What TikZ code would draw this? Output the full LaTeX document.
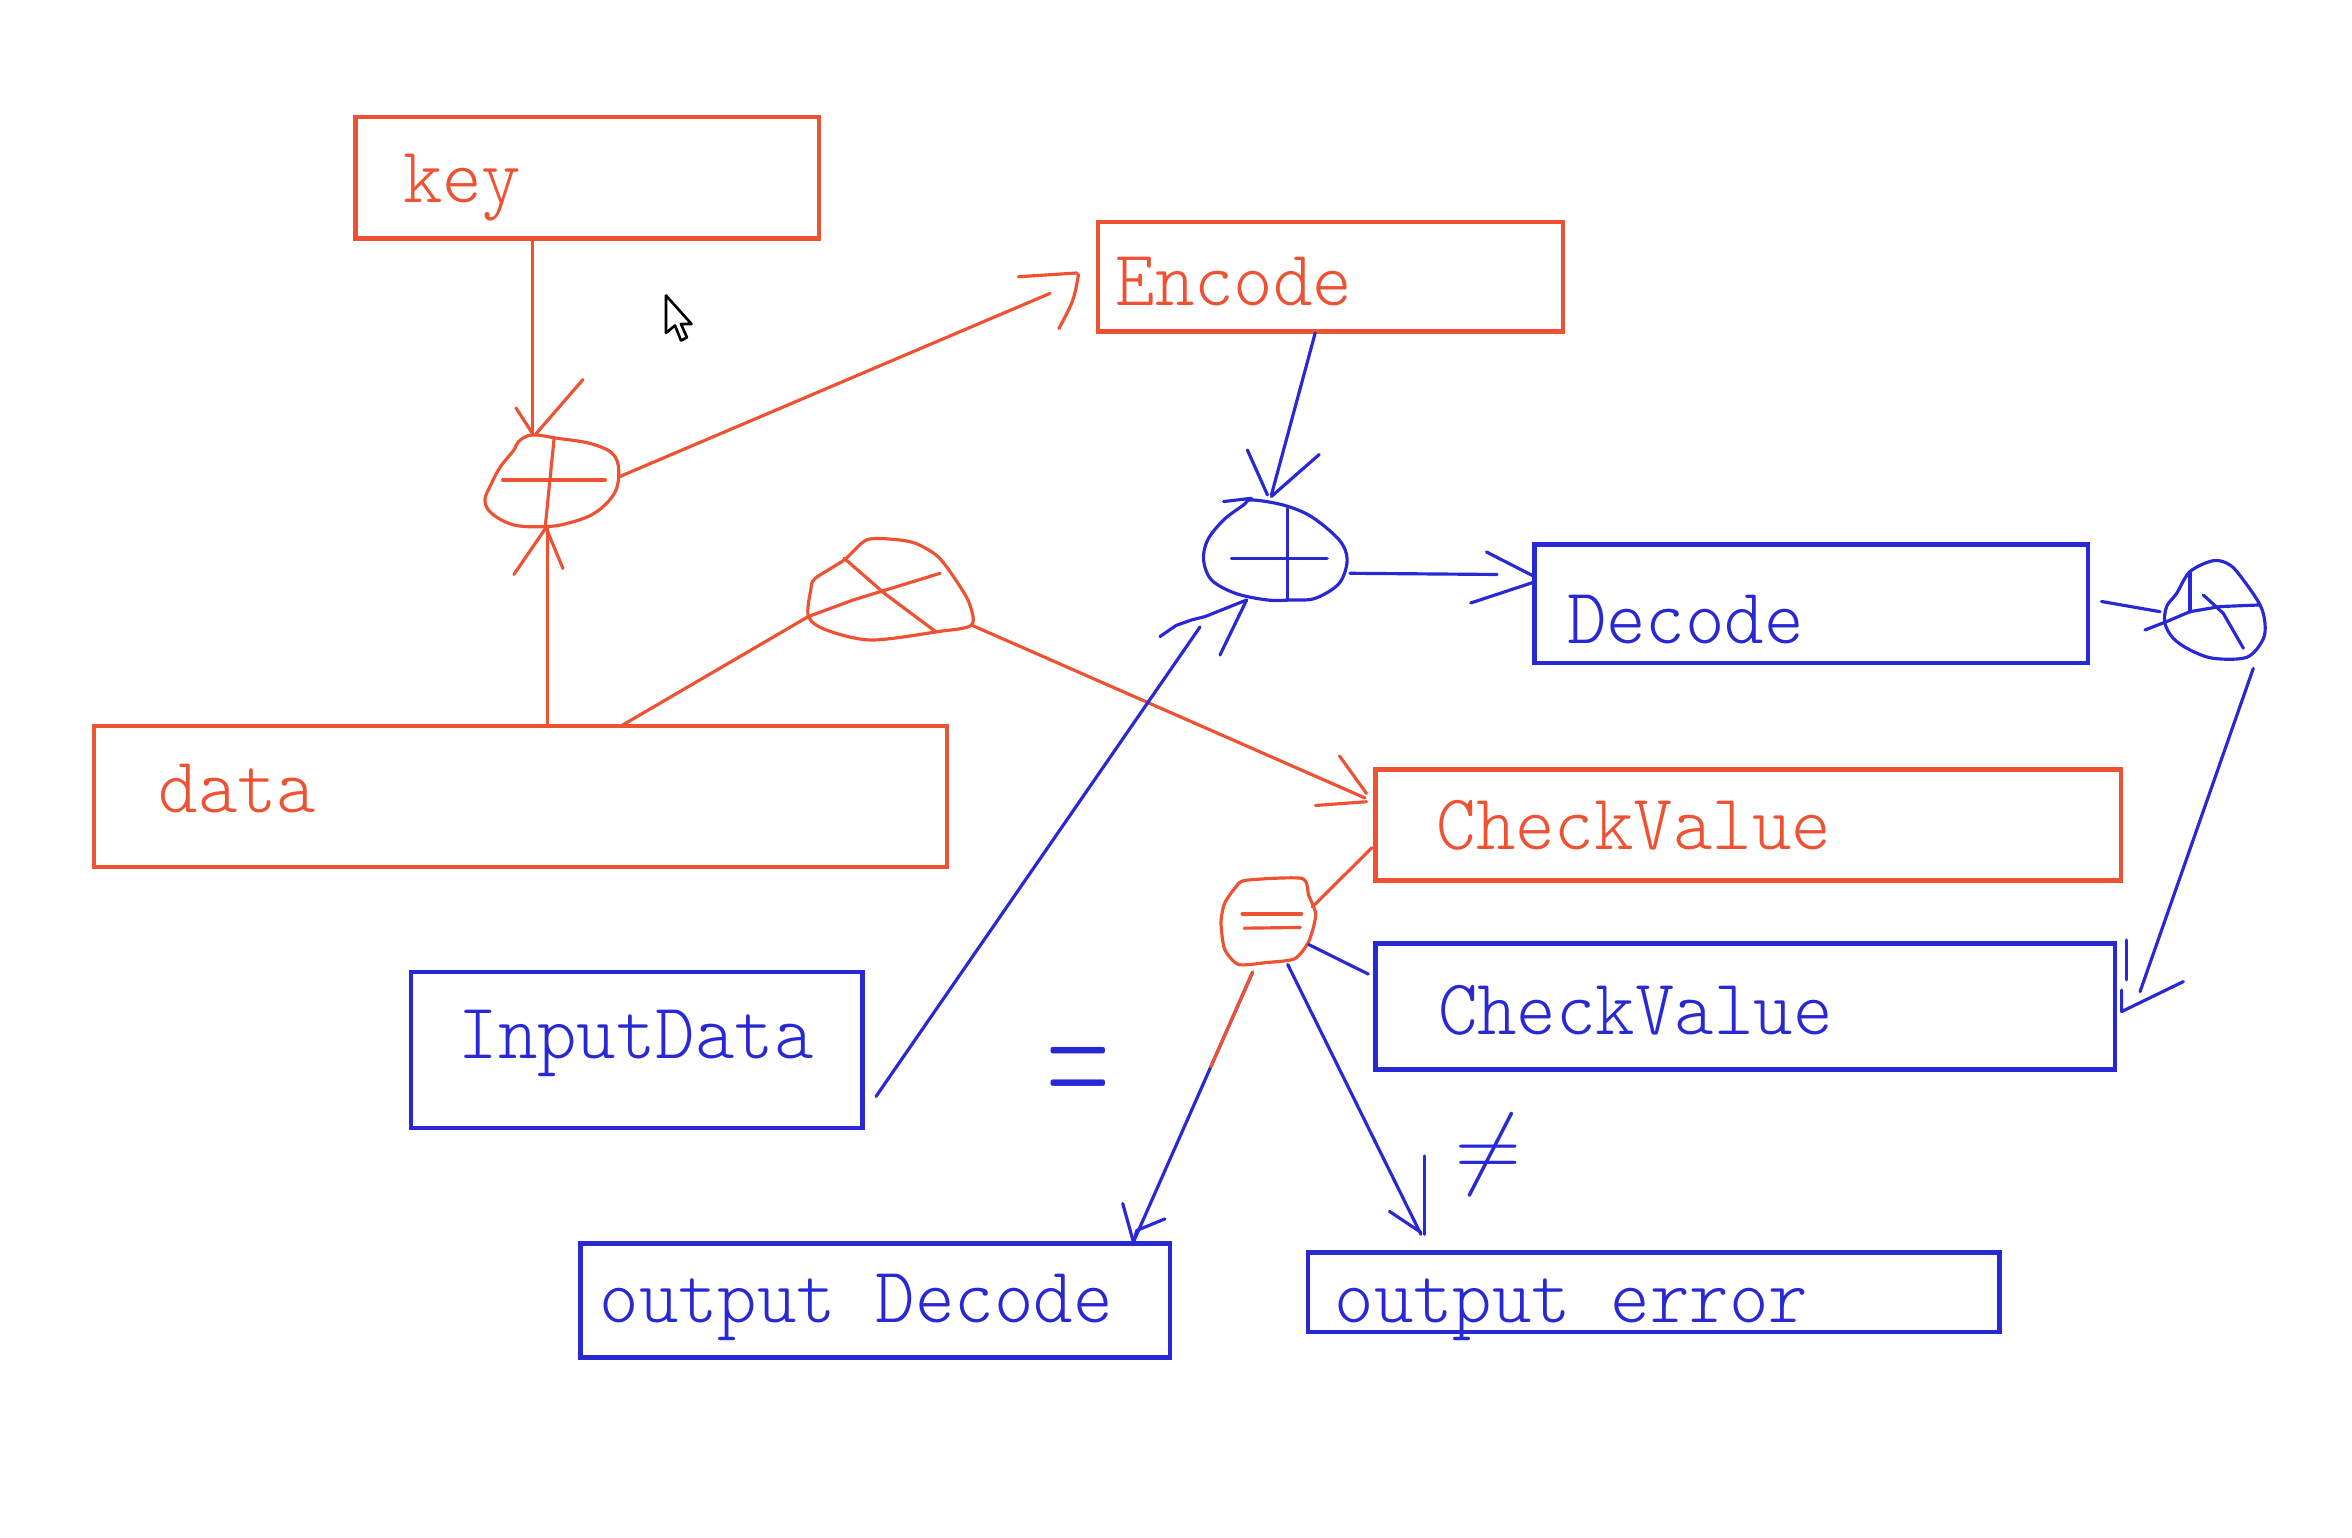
\documentclass[tikz,border=0pt]{standalone}
\usepackage{graphicx}
\usetikzlibrary{arrows.meta,calc}
\definecolor{rd}{RGB}{238,82,50}
\definecolor{bu}{RGB}{40,40,212}
\tikzset{
  rbox/.style={draw=rd, line width=0.85pt, rectangle, inner sep=0pt},
  bbox/.style={draw=bu, line width=0.85pt, rectangle, inner sep=0pt},
  lab/.style={anchor=base west, inner sep=0pt, font=\fontsize{15}{18}\selectfont\ttfamily\fontseries{l}\selectfont},
  rlab/.style={lab, text=rd},
  blab/.style={lab, text=bu},
  pen/.style={line width=0.6pt, line cap=round, line join=round},
  rpen/.style={pen, draw=rd},
  bpen/.style={pen, draw=bu},
}
\newcommand\nx[1]{\scalebox{0.95}[1]{#1}}
\begin{document}
\begin{tikzpicture}[x=0.01cm, y=-0.01cm]
\useasboundingbox[fill=white] (0,0) rectangle (1568,1025);

% ---------- boxes ----------
\node[rbox, minimum width=3.09cm, minimum height=0.81cm] (key) at (391.5,118.5) {};
\node[rbox, minimum width=3.10cm, minimum height=0.73cm] (enc) at (887,184.5) {};
\node[bbox, minimum width=3.69cm, minimum height=0.79cm] (dec) at (1207.5,402.5) {};
\node[rbox, minimum width=5.68cm, minimum height=0.94cm] (data) at (347,531) {};
\node[rbox, minimum width=4.97cm, minimum height=0.74cm] (cvr) at (1165.5,550) {};
\node[bbox, minimum width=4.93cm, minimum height=0.84cm] (cvb) at (1163.5,671) {};
\node[bbox, minimum width=3.01cm, minimum height=1.04cm] (inp) at (424.5,700) {};
\node[bbox, minimum width=3.93cm, minimum height=0.76cm] (odec) at (583.5,867) {};
\node[bbox, minimum width=4.61cm, minimum height=0.53cm] (oerr) at (1102.5,861.5) {};

% ---------- labels ----------
\node[rlab] (keyt) at (268,135) {\nx{key}};
\node[rlab] (enct) at (743,204) {\nx{Encode}};
\node[blab] (dect) at (1044,429) {\nx{Decode}};
\node[rlab] (datat) at (105,542) {\nx{data}};
\node[rlab] (cvrt) at (957,566.5) {\nx{CheckValue}};
\node[blab] (cvbt) at (958,690) {\nx{CheckValue}};
\node[blab] (inpt) at (305,705.6) {\nx{InputData}};
\node[blab] (odect) at (399,882) {\nx{output Decode}};
\node[blab] (oerrt) at (889,881.5) {\nx{output error}};

\node[text=bu, inner sep=0pt, font=\fontsize{15}{15}\selectfont] (eqs) at (719,719) {\scalebox{1.1}[2.3]{$=$}};
\node[text=bu, inner sep=0pt, font=\fontsize{17}{18}\selectfont] (neq) at (992,770) {$\neq$};

% ---------- operator blobs ----------
% XOR 1 (red)
\draw[rpen] plot[smooth cycle, tension=0.6] coordinates {(354.5,290) (372.4,292.3) (393.2,295.6) (408.1,302.2) (412.5,313.4) (409.6,328.9) (396.2,342.2) (378.3,348.9) (363.5,351.1) (342.6,350) (327.7,342.2) (323.3,333.4) (327.7,322.2) (333.7,311.1) (342.6,300) (345.6,294.5)};
\draw[rpen] (335.1,320) -- (403.6,320);
\draw[rpen] (369.4,292.3) -- (363.5,351.1);
\coordinate (x1top) at (355,289);
\coordinate (x1bot) at (365,352);
\coordinate (x1rt) at (412.5,318);

% XOR 2 (red leaf)
\draw[rpen] plot[smooth cycle, tension=0.5] coordinates {(539,411.1) (540.5,393.4) (543.5,385.6) (562.8,373.3) (577.7,360) (595.6,359.6) (610.5,362.3) (625.3,371.1) (637.2,386.7) (646.2,402.2) (647.6,416.7) (625.3,421.1) (580.7,426.7) (550.9,420)};
\draw[rpen] (539,411) -- (568.8,400) -- (626.8,382.2);
\draw[rpen] (562.8,372.2) -- (589.6,395.6) -- (623.8,421.1);
\coordinate (x2lt) at (539,411);
\coordinate (x2rt) at (647.6,416.7);

% XOR 3 (blue)
\draw[bpen] plot[smooth cycle, tension=0.55] coordinates {(834.3,333.3) (855.5,336.7) (874.2,344.4) (892.8,360) (898.1,373.3) (892.8,388.9) (876.8,398.9) (860.9,400) (844.9,400) (823.7,395.6) (807.7,386.7) (802.4,373.3) (805.1,360) (815.7,346.7) (829,336.7)};
\draw[bpen] (821,372.2) -- (884.8,372.2);
\draw[bpen] (858.2,338.9) -- (858.2,400);
\draw[bpen] (815.7,334.4) -- (834.3,332.2);
\coordinate (x3top) at (847.6,330);
\coordinate (x3bl) at (831.1,400);
\coordinate (x3rt) at (900,382.2);

% XOR 4 (blue)
\draw[bpen] plot[smooth cycle, tension=0.55] coordinates {(1460,381.1) (1475.6,373.8) (1486.7,376.7) (1495.6,386.7) (1506.7,403.3) (1510,415.6) (1508.5,426.7) (1497.8,438.2) (1475.6,438.9) (1460,433.3) (1448.9,425.6) (1443.3,415.6) (1444.4,404.4) (1451.1,395.6)};
\draw[bpen] (1430,420) -- (1444.4,414.4) -- (1460,407.8) -- (1480,404.4) -- (1506.7,403.3);
\draw[bpen] (1468.9,396.7) -- (1482.2,408.9) -- (1495.6,432.2);
\draw[bpen] (1460,381) -- (1460,408);
\coordinate (x4lt) at (1440,407.8);
\coordinate (x4bot) at (1502.2,445.6);

% equality blob (red)
\draw[rpen] plot[smooth cycle, tension=0.4] coordinates {(830.4,586.9) (867.8,585.6) (872.5,597.1) (877.2,609.9) (872.5,627.7) (863.1,639.2) (844.4,641.7) (825.7,643) (816.4,632.8) (814,615) (816.4,602.2) (823.4,592)};
\draw[rpen] (828.1,609.3) -- (867.8,609.3);
\draw[rpen] (829.5,618.8) -- (866.9,618.3);
\coordinate (eqrt) at (874.8,604.7);
\coordinate (eqrb) at (872.5,629.7);
\coordinate (eqbl) at (835.1,648.1);
\coordinate (eqbr) at (858.5,643);

% cursor
\draw[black, fill=white, line width=0.5pt, line join=round] (444,197) -- ++(0,25) -- ++(6,-5) -- ++(4,10) -- ++(4,-2) -- ++(-4,-9) -- ++(7,0) -- cycle;

% ---------- red connectors ----------
\draw[rpen] (key.south -| x1top) -- (x1top);
\draw[rpen] (344,272) -- (x1top);
\draw[rpen] (388.7,253) -- (357.5,289);

\draw[rpen] (data.north -| x1bot) -- (x1bot);
\draw[rpen] (342.6,383) -- (363.5,352.5);
\draw[rpen] (375.3,379) -- (364.5,353);

\coordinate (encin) at (700,195.6);
\draw[rpen] (x1rt) -- (encin);
\draw[rpen] (679,184.5) -- (718,182);
\draw[rpen] (719,183) .. controls (716,200) .. (706,219);

\coordinate (dtap) at (414,484);
\draw[rpen] (dtap) -- (x2lt);

\coordinate (cvrin) at (910,532);
\draw[rpen] (x2rt) -- (cvrin);
\draw[rpen] (893,504) -- (911,529);
\draw[rpen] (877,537) -- (911,534.5);

\coordinate (cvrout) at (914.6,565.2);
\draw[rpen] (cvrout) -- (eqrt);

% ---------- blue connectors ----------
\coordinate (encout) at (876.8,222);
\draw[bpen] (encout) -- (x3top);
\draw[bpen] (831.6,300) -- (845,330);
\draw[bpen] (879.5,303) -- (847.6,331);

\coordinate (inpout) at (584,731);
\coordinate (inpend) at (800,418);
\draw[bpen] (inpout) -- (inpend);
\draw[bpen] (773.3,424.4) -- (784,417) -- (794.4,413.3) -- (803.3,411.1) -- (x3bl);
\draw[bpen] (813.3,436.7) -- (x3bl);

\coordinate (decin) at (998,383);
\draw[bpen] (x3rt) -- (decin);
\draw[bpen] (991,368) -- (1023,384.4);
\draw[bpen] (980.5,402) -- (1023,388);

\coordinate (decout) at (1401,401);
\draw[bpen] (decout) -- (x4lt);

\coordinate (cvbin) at (1426.7,661.1);
\draw[bpen] (x4bot) -- (cvbin);
\draw[bpen] (1417.8,626.7) -- (1417.8,653.3);
\draw[bpen] (1414.4,660) -- (1414.4,674.4) -- (1455.6,654.4);

\coordinate (cvbout) at (912.2,649.4);
\draw[bpen] (cvbout) -- (eqrb);

\coordinate (odecin) at (755.6,828);
\draw[bpen] (eqbl) -- (odecin);
\draw[rpen] (eqbl) -- ($(eqbl)!0.35!(odecin)$);
\draw[bpen] (748.5,802.4) -- (odecin);
\draw[bpen] (776.6,812.6) -- (757.9,820.3) -- (odecin);

\coordinate (oerrin) at (947.3,822.9);
\draw[bpen] (eqbr) -- (oerrin);
\draw[bpen] (949.7,770.6) -- (949.7,822.9);
\draw[bpen] (926.3,807.6) -- (947.3,821.6);
\end{tikzpicture}
\end{document}
